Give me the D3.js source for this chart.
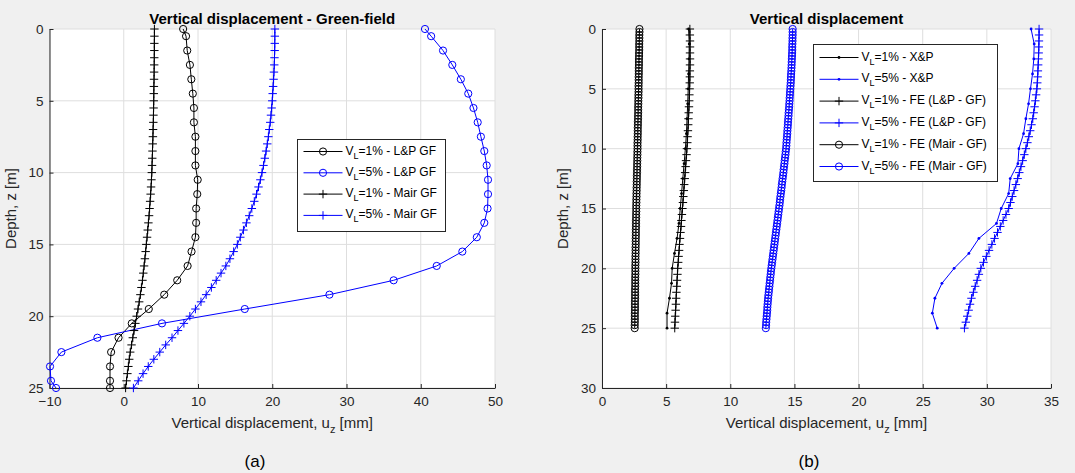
<!DOCTYPE html>
<html><head><meta charset="utf-8">
<script src="https://cdn.jsdelivr.net/npm/d3@7"></script>
<style>
html,body{margin:0;padding:0;background:#f0f0f0;}
svg{display:block;font-family:"Liberation Sans",Arial,Helvetica,sans-serif;}
</style></head>
<body>
<svg id="chart" width="1075" height="473"></svg>
<script>
// ---------- DATA ----------
// Panel (a): Green-field
const depthLP = [0,0.5,1.5,2.5,3.5,4.5,5.5,6.5,7.5,8.5,9.5,10.5,11.5,12.5,13.5,14.5,15.5,16.5,17.5,18.5,19.5,20.5,21.5,22.5,23.5,24.5,25];
const lpGF1 = [8.0,8.39,8.55,8.91,9.1,9.3,9.45,9.45,9.65,9.65,9.65,9.96,9.9,9.75,9.75,9.65,9.13,8.6,7.2,5.45,3.37,1.08,-0.7,-1.7,-1.85,-1.85,-1.85];
const lpGF5 = [40.57,41.4,43.0,44.25,45.4,46.4,47.1,47.67,48.1,48.56,48.88,49.06,49.06,49.0,48.56,47.55,45.6,42.15,36.35,27.7,16.3,5.15,-3.55,-8.4,-9.93,-9.8,-9.12];
const depthHalf = [0,0.5,1,1.5,2,2.5,3,3.5,4,4.5,5,5.5,6,6.5,7,7.5,8,8.5,9,9.5,10,10.5,11,11.5,12,12.5,13,13.5,14,14.5,15,15.5,16,16.5,17,17.5,18,18.5,19,19.5,20,20.5,21,21.5,22,22.5,23,23.5,24,24.5,25];
const mairGF1 = [4.13,4.13,4.12,4.12,4.11,4.1,4.09,4.08,4.06,4.05,4.04,4.02,4.0,3.98,3.95,3.93,3.9,3.87,3.84,3.81,3.78,3.73,3.68,3.62,3.55,3.48,3.41,3.32,3.23,3.14,3.04,2.95,2.85,2.74,2.63,2.52,2.38,2.24,2.08,1.92,1.74,1.57,1.39,1.22,1.05,0.87,0.74,0.62,0.49,0.37,0.25];
const mairGF5 = [20.35,20.35,20.34,20.33,20.3,20.27,20.23,20.18,20.12,20.06,20.0,19.92,19.83,19.73,19.6,19.48,19.33,19.17,19.0,18.82,18.62,18.4,18.15,17.88,17.58,17.25,16.9,16.52,16.12,15.7,15.3,14.8,14.3,13.75,13.1,12.45,11.8,11.1,10.4,9.65,8.9,8.1,7.3,6.5,5.65,4.85,4.05,3.3,2.6,1.95,1.3];

// Panel (b)
const depthXP = [0,1.25,2.5,3.75,5,6.25,7.5,8.75,10,11.25,12.5,13.75,15,16.25,17.5,18.75,20,21.25,22.5,23.75,25];
const xp1 = [6.75,6.8,6.78,6.75,6.72,6.68,6.63,6.58,6.5,6.4,6.3,6.2,6.1,6.0,5.85,5.65,5.47,5.42,5.26,5.07,5.07];
const xp5 = [33.45,33.69,33.66,33.56,33.4,33.25,33.04,32.86,32.5,32.42,31.82,31.7,31.12,30.75,29.38,28.6,27.45,26.5,25.95,25.75,26.13];
const feLP1 = [6.85,6.85,6.86,6.86,6.86,6.86, 6.86,6.85,6.85,6.84,6.83, 6.81,6.80,6.78,6.76,6.74, 6.72,6.70,6.67,6.65,6.62, 6.59,6.55,6.52,6.48,6.45, 6.41,6.38,6.34,6.31,6.27, 6.23,6.19,6.16,6.12,6.08, 6.04,6.01,5.97,5.94,5.90, 5.88,5.85,5.83,5.80,5.78, 5.76,5.74,5.71,5.69,5.67];
const feLP5 = [34.07,34.07,34.06,34.05,34.04,34.02, 34.00,33.98,33.96,33.93,33.90, 33.84,33.78,33.72,33.65,33.58, 33.48,33.38,33.27,33.16,33.04, 32.92,32.79,32.66,32.53,32.40, 32.26,32.12,31.98,31.84,31.70, 31.49,31.27,31.05,30.83,30.60, 30.39,30.17,29.96,29.74,29.53, 29.38,29.24,29.09,28.95,28.80, 28.69,28.58,28.47,28.36,28.25];
const depthQuarter = [0,0.25,0.5,0.75,1,1.25,1.5,1.75,2,2.25,2.5,2.75,3,3.25,3.5,3.75,4,4.25,4.5,4.75,5,5.25,5.5,5.75,6,6.25,6.5,6.75,7,7.25,7.5,7.75,8,8.25,8.5,8.75,9,9.25,9.5,9.75,10,10.25,10.5,10.75,11,11.25,11.5,11.75,12,12.25,12.5,12.75,13,13.25,13.5,13.75,14,14.25,14.5,14.75,15,15.25,15.5,15.75,16,16.25,16.5,16.75,17,17.25,17.5,17.75,18,18.25,18.5,18.75,19,19.25,19.5,19.75,20,20.25,20.5,20.75,21,21.25,21.5,21.75,22,22.25,22.5,22.75,23,23.25,23.5,23.75,24,24.25,24.5,24.75,25];
const feMair1 = [2.92,2.92,2.91,2.91,2.91,2.90,2.90,2.90,2.89,2.89,2.88,2.88,2.88,2.87,2.87,2.87,2.86,2.86,2.86,2.85,2.85,
  2.85,2.84,2.84,2.83,2.83,2.82,2.82,2.82,2.81,2.81,2.80,2.80,2.79,2.79,2.79,2.78,2.78,2.77,2.77,2.77,
  2.76,2.76,2.75,2.75,2.74,2.74,2.73,2.73,2.72,2.72,2.71,2.71,2.70,2.70,2.69,2.69,2.68,2.68,2.67,2.67,
  2.67,2.66,2.66,2.65,2.65,2.65,2.64,2.64,2.64,2.63,2.63,2.63,2.62,2.62,2.62,2.61,2.61,2.61,2.60,2.60,
  2.60,2.60,2.59,2.59,2.59,2.59,2.58,2.58,2.58,2.58,2.57,2.57,2.57,2.57,2.56,2.56,2.56,2.56,2.55,2.55];
const feMair5 = [14.86,14.86,14.86,14.85,14.85,14.84,14.83,14.83,14.82,14.81,14.80,
  14.79,14.78,14.77,14.76,14.74,14.73,14.72,14.71,14.69,14.68,
  14.66,14.65,14.63,14.62,14.60,14.59,14.57,14.55,14.54,14.52,
  14.50,14.49,14.47,14.45,14.44,14.42,14.40,14.38,14.37,14.35,
  14.32,14.30,14.27,14.24,14.22,14.19,14.16,14.14,14.11,14.08,
  14.05,14.02,14.00,13.97,13.94,13.91,13.88,13.86,13.83,13.80,
  13.77,13.74,13.71,13.68,13.65,13.62,13.59,13.56,13.53,13.50,
  13.47,13.44,13.41,13.38,13.35,13.32,13.29,13.26,13.23,13.20,
  13.17,13.15,13.12,13.10,13.07,13.05,13.02,13.00,12.97,12.95,
  12.93,12.91,12.89,12.88,12.86,12.84,12.82,12.80,12.79,12.77];

const ticksA_x = [-10,0,10,20,30,40,50];
const ticksA_y = [0,5,10,15,20,25];
const ticksB_x = [0,5,10,15,20,25,30,35];
const ticksB_y = [0,5,10,15,20,25,30];

const titleA = "Vertical displacement - Green-field";
const titleB = "Vertical displacement";
const labelsA = ["=1% - L&P GF","=5% - L&P GF","=1% - Mair GF","=5% - Mair GF"];
const labelsB = ["=1% - X&P","=5% - X&P","=1% - FE (L&P - GF)","=5% - FE (L&P - GF)","=1% - FE (Mair - GF)","=5% - FE (Mair - GF)"];

// ---------- DRAWING ----------
const svg = d3.select("#chart");
const BLACK = "#000000", BLUE = "#0000ff", AX = "#262626";

function drawMarker(g, type, color, x, y) {
  if (type === "circle") {
    g.append("circle").attr("cx", x).attr("cy", y).attr("r", 3.6)
      .attr("fill", "none").attr("stroke", color).attr("stroke-width", 1);
  } else if (type === "plus") {
    g.append("path").attr("d", `M${x-4.2},${y}H${x+4.2}M${x},${y-4.2}V${y+4.2}`)
      .attr("stroke", color).attr("stroke-width", 1).attr("fill", "none");
  } else if (type === "dot") {
    g.append("circle").attr("cx", x).attr("cy", y).attr("r", 1.4).attr("fill", color);
  }
}

function panel(cfg) {
  const x = d3.scaleLinear().domain(cfg.xDomain).range([cfg.left, cfg.right]);
  const y = d3.scaleLinear().domain(cfg.yDomain).range([cfg.top, cfg.bottom]);
  const g = svg.append("g");
  g.append("rect").attr("x", cfg.left).attr("y", cfg.top)
    .attr("width", cfg.right - cfg.left).attr("height", cfg.bottom - cfg.top).attr("fill", "#ffffff");
  // grid
  g.append("g").selectAll("line").data(cfg.xTicks).join("line")
    .attr("x1", d => x(d)).attr("x2", d => x(d)).attr("y1", cfg.top).attr("y2", cfg.bottom)
    .attr("stroke", "#dedede").attr("stroke-width", 1);
  g.append("g").selectAll("line").data(cfg.yTicks).join("line")
    .attr("y1", d => y(d)).attr("y2", d => y(d)).attr("x1", cfg.left).attr("x2", cfg.right)
    .attr("stroke", "#dedede").attr("stroke-width", 1);
  // axes
  const xa = g.append("g").attr("transform", `translate(0,${cfg.bottom})`)
    .call(d3.axisBottom(x).tickValues(cfg.xTicks).tickFormat(d3.format("d")).tickSizeInner(-4).tickSizeOuter(0).tickPadding(8));
  const ya = g.append("g").attr("transform", `translate(${cfg.left},0)`)
    .call(d3.axisLeft(y).tickValues(cfg.yTicks).tickFormat(d3.format("d")).tickSizeInner(-4).tickSizeOuter(0).tickPadding(6));
  [xa, ya].forEach(a => {
    a.select(".domain").attr("stroke", AX).attr("stroke-width", 1);
    a.selectAll(".tick line").attr("stroke", AX);
    a.selectAll(".tick text").attr("fill", AX).style("font-size", "13.5px").style("font-family", "Liberation Sans, Arial, sans-serif");
  });
  // series
  const line = d3.line().x(d => x(d[0])).y(d => y(d[1]));
  cfg.series.forEach(s => {
    const pts = s.values.map((v, i) => [v, s.depths[i]]);
    const sg = g.append("g");
    sg.append("path").attr("d", line(pts)).attr("fill", "none").attr("stroke", s.color).attr("stroke-width", 1);
    pts.forEach(p => drawMarker(sg, s.marker, s.color, x(p[0]), y(p[1])));
  });
  // title
  g.append("text").attr("x", (cfg.left + cfg.right) / 2).attr("y", 24).attr("text-anchor", "middle")
    .style("font-size", "15px").style("font-weight", "bold").attr("fill", "#000").text(cfg.title);
  // x label
  const xl = g.append("text").attr("x", (cfg.left + cfg.right) / 2).attr("y", 428).attr("text-anchor", "middle")
    .style("font-size", "15px").attr("fill", AX);
  xl.append("tspan").text("Vertical displacement, u");
  xl.append("tspan").attr("dy", 5).style("font-size", "11px").text("z");
  xl.append("tspan").attr("dy", -5).text(" [mm]");
  // y label
  g.append("text").attr("transform", `translate(${cfg.ylabX},${(cfg.top + cfg.bottom) / 2}) rotate(-90)`)
    .attr("text-anchor", "middle").style("font-size", "15px").attr("fill", AX).text("Depth, z [m]");
  // panel label
  g.append("text").attr("x", cfg.panelX).attr("y", 467).attr("text-anchor", "middle")
    .style("font-size", "17px").attr("fill", "#000").text(cfg.panelLabel);
  // legend
  const L = cfg.legend;
  const lg = g.append("g");
  lg.append("rect").attr("x", L.x).attr("y", L.y).attr("width", L.w).attr("height", L.h)
    .attr("fill", "#fff").attr("stroke", AX).attr("stroke-width", 1);
  cfg.series.forEach((s, i) => {
    const yy = L.y + L.first + i * L.step;
    lg.append("line").attr("x1", L.x + 6).attr("x2", L.x + 45).attr("y1", yy).attr("y2", yy)
      .attr("stroke", s.color).attr("stroke-width", 1);
    drawMarker(lg, s.marker, s.color, L.x + 25.5, yy);
    const t = lg.append("text").attr("x", L.x + 48).attr("y", yy + 3).style("font-size", "12px").attr("fill", "#000");
    t.append("tspan").text("V");
    t.append("tspan").attr("dy", 4).style("font-size", "9px").text("L");
    t.append("tspan").attr("dy", -4).text(s.label);
  });
}

panel({
  xDomain: [-10, 50], yDomain: [0, 25], left: 49.5, right: 495, top: 29, bottom: 388,
  xTicks: ticksA_x, yTicks: ticksA_y, title: titleA, ylabX: 16, panelX: 255, panelLabel: "(a)",
  legend: { x: 297.5, y: 139.5, w: 148, h: 92, first: 12, step: 21.3 },
  series: [
    { depths: depthLP, values: lpGF1, color: BLACK, marker: "circle", label: labelsA[0] },
    { depths: depthLP, values: lpGF5, color: BLUE, marker: "circle", label: labelsA[1] },
    { depths: depthHalf, values: mairGF1, color: BLACK, marker: "plus", label: labelsA[2] },
    { depths: depthHalf, values: mairGF5, color: BLUE, marker: "plus", label: labelsA[3] }
  ]
});

panel({
  xDomain: [0, 35], yDomain: [0, 30], left: 602, right: 1051, top: 29, bottom: 388,
  xTicks: ticksB_x, yTicks: ticksB_y, title: titleB, ylabX: 568, panelX: 809, panelLabel: "(b)",
  legend: { x: 813.5, y: 44.5, w: 184, h: 137, first: 13, step: 21.8 },
  series: [
    { depths: depthXP, values: xp1, color: BLACK, marker: "dot", label: labelsB[0] },
    { depths: depthXP, values: xp5, color: BLUE, marker: "dot", label: labelsB[1] },
    { depths: depthHalf, values: feLP1, color: BLACK, marker: "plus", label: labelsB[2] },
    { depths: depthHalf, values: feLP5, color: BLUE, marker: "plus", label: labelsB[3] },
    { depths: depthQuarter, values: feMair1, color: BLACK, marker: "circle", label: labelsB[4] },
    { depths: depthQuarter, values: feMair5, color: BLUE, marker: "circle", label: labelsB[5] }
  ]
});
</script>
</body></html>
